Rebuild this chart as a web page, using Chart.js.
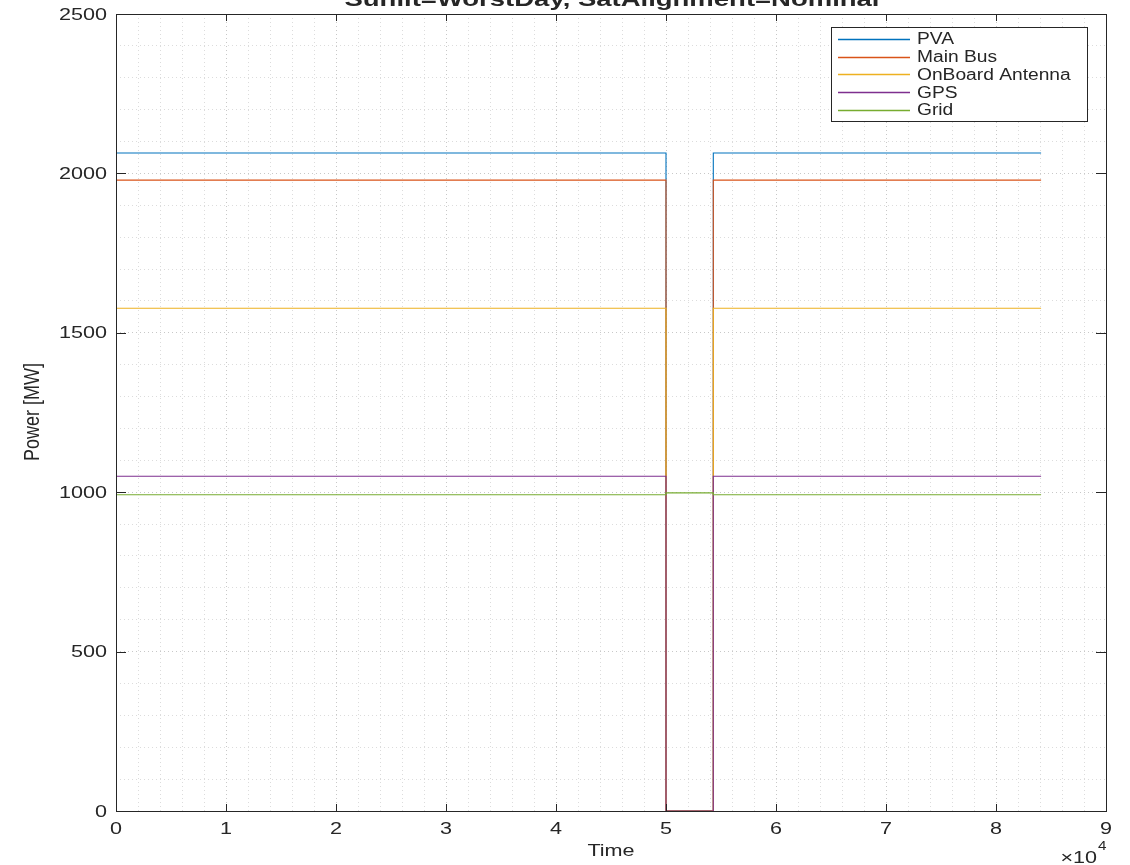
<!DOCTYPE html>
<html>
<head>
<meta charset="utf-8">
<script src="https://cdn.jsdelivr.net/npm/chart.js@4.4.1/dist/chart.umd.min.js"></script>
<style>
  html, body { margin: 0; padding: 0; background: #fff; }
  #wrap { width: 1130px; height: 865px; }
</style>
</head>
<body>
<div id="wrap"><canvas id="powerChart" width="1130" height="865"></canvas></div>
<script>
// data
const times       = [0, 50000, 50000, 54300, 54300, 84100];
const pva         = [2064, 2064, 0, 0, 2064, 2064];
const mainBus     = [1979, 1979, 0, 0, 1979, 1979];
const onBoard     = [1577, 1577, 0, 0, 1577, 1577];
const gps         = [1050, 1050, 0, 0, 1050, 1050];
const grid        = [992, 992, 998, 998, 992, 992];
const seriesNames = ['PVA', 'Main Bus', 'OnBoard Antenna', 'GPS', 'Grid'];
const seriesData  = [pva, mainBus, onBoard, gps, grid];
const xTicks      = [0, 1, 2, 3, 4, 5, 6, 7, 8, 9];      // x 10^4
const yTicks      = [0, 500, 1000, 1500, 2000, 2500];

const colors = ['#0072BD', '#D95319', '#EDB120', '#7E2F8E', '#77AC30'];
const txtColor = '#262626';
const SX = 1.27; // the reference text is stretched horizontally

function sText(ctx, txt, x, y, font, align, baseline, sx) {
    ctx.save();
    ctx.font = font;
    ctx.fillStyle = txtColor;
    ctx.textAlign = align;
    ctx.textBaseline = baseline;
    ctx.translate(x, y);
    ctx.scale(sx || SX, 1);
    ctx.fillText(txt, 0, 0);
    ctx.restore();
}

// axes box, inward ticks, labels, title and legend
const matlabAxes = {
    id: 'matlabAxes',
    afterDraw(chart) {
        const ctx = chart.ctx;
        const a = chart.chartArea;
        const xs = chart.scales.x, ys = chart.scales.y;

        ctx.save();
        ctx.strokeStyle = txtColor;
        ctx.lineWidth = 1;
        ctx.strokeRect(a.left + 0.5, a.top + 0.5, a.right - a.left, a.bottom - a.top);

        ctx.beginPath();
        xTicks.forEach(t => {
            const px = Math.round(xs.getPixelForValue(t * 10000)) + 0.5;
            ctx.moveTo(px, a.bottom); ctx.lineTo(px, a.bottom - 7);
            ctx.moveTo(px, a.top); ctx.lineTo(px, a.top + 7);
        });
        yTicks.forEach(t => {
            const py = Math.round(ys.getPixelForValue(t)) + 0.5;
            ctx.moveTo(a.left, py); ctx.lineTo(a.left + 10, py);
            ctx.moveTo(a.right, py); ctx.lineTo(a.right - 10, py);
        });
        ctx.stroke();
        ctx.restore();

        const f17 = '17px "Liberation Sans", Arial, sans-serif';
        xTicks.forEach(t => {
            sText(ctx, String(t), xs.getPixelForValue(t * 10000), 829, f17, 'center', 'middle');
        });
        yTicks.forEach(t => {
            sText(ctx, String(t), 107, ys.getPixelForValue(t) + 1, f17, 'right', 'middle');
        });

        sText(ctx, 'Time', (a.left + a.right) / 2, 851, f17, 'center', 'middle');
        sText(ctx, '\u00d710', 1097, 863, f17, 'right', 'alphabetic');
        sText(ctx, '4', 1098, 850, '12px "Liberation Sans", Arial, sans-serif', 'left', 'alphabetic');

        // y axis title, rotated
        ctx.save();
        ctx.font = '18px "Liberation Sans", Arial, sans-serif';
        ctx.fillStyle = txtColor;
        ctx.textAlign = 'center';
        ctx.textBaseline = 'middle';
        ctx.translate(33, 412);
        ctx.rotate(-Math.PI / 2);
        ctx.scale(1, SX);
        ctx.fillText('Power [MW]', 0, 0);
        ctx.restore();

        // title, cut off at the top like the reference
        const tFont = 'bold 20px "Liberation Sans", Arial, sans-serif';
        const title = 'Sunlit=WorstDay, SatAlignment=Nominal';
        ctx.save();
        ctx.font = tFont;
        const tw = ctx.measureText(title).width;
        ctx.restore();
        sText(ctx, title, 612, 6, tFont, 'center', 'alphabetic', 535 / tw);

        // legend
        const lx = 831, ly = 27, lw = 256, lh = 94;
        ctx.save();
        ctx.fillStyle = '#fff';
        ctx.fillRect(lx, ly, lw, lh);
        ctx.strokeStyle = txtColor;
        ctx.lineWidth = 1;
        ctx.strokeRect(lx + 0.5, ly + 0.5, lw, lh);
        seriesNames.forEach((name, i) => {
            const y = Math.round(39 + i * 17.7) + 0.5;
            ctx.strokeStyle = colors[i];
            ctx.lineWidth = 1.3;
            ctx.beginPath();
            ctx.moveTo(838, y);
            ctx.lineTo(910, y);
            ctx.stroke();
        });
        ctx.restore();
        seriesNames.forEach((name, i) => {
            sText(ctx, name, 917, 39 + i * 17.7 + 1, '16px "Liberation Sans", Arial, sans-serif', 'left', 'middle', 1.2);
        });
    }
};

const datasets = seriesNames.map((name, i) => ({
    label: name,
    data: times.map((t, k) => ({ x: t, y: seriesData[i][k] })),
    borderColor: colors[i],
    borderWidth: 1.1,
    pointRadius: 0,
    tension: 0,
    order: seriesNames.length - i, // later series drawn on top, like MATLAB
    clip: 2
}));

const ctx = document.getElementById('powerChart').getContext('2d');
new Chart(ctx, {
    type: 'line',
    data: { datasets: datasets },
    options: {
        responsive: false,
        animation: false,
        layout: { padding: { left: 116, top: 14, right: 24, bottom: 54 } },
        plugins: {
            legend: { display: false },
            tooltip: { enabled: false },
            title: { display: false }
        },
        scales: {
            x: {
                type: 'linear',
                min: 0,
                max: 90000,
                ticks: { display: false, stepSize: 2000, autoSkip: false },
                grid: {
                    drawTicks: false,
                    color: c => (c.tick && c.tick.value % 10000 === 0) ? '#c8c8c8' : '#dcdcdc',
                    lineWidth: 1
                },
                border: { display: false, dash: [1, 3] }
            },
            y: {
                type: 'linear',
                min: 0,
                max: 2500,
                ticks: { display: false, stepSize: 100, autoSkip: false },
                grid: {
                    drawTicks: false,
                    color: c => (c.tick && c.tick.value % 500 === 0) ? '#c8c8c8' : '#dcdcdc',
                    lineWidth: 1
                },
                border: { display: false, dash: [1, 3] }
            }
        }
    },
    plugins: [matlabAxes]
});
</script>
</body>
</html>
